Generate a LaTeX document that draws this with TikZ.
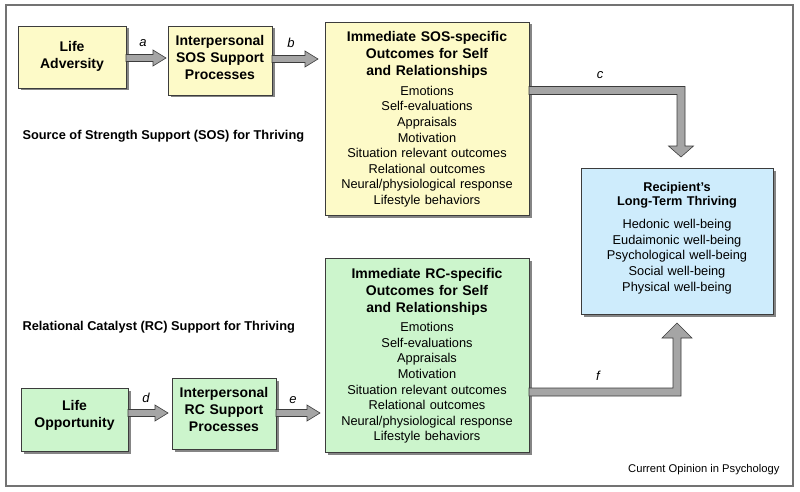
\documentclass[tikz,border=0pt]{standalone}
\usepackage{fontspec}
\setmainfont{Liberation Sans}
\usetikzlibrary{shadows,calc}
\definecolor{yel}{RGB}{253,250,200}
\definecolor{grn}{RGB}{204,245,204}
\definecolor{blu}{RGB}{206,236,252}
\definecolor{arr}{RGB}{165,165,165}
\definecolor{edge}{RGB}{60,60,60}
\tikzset{
  box/.style={draw=edge, line width=0.9pt, inner sep=0pt,
    drop shadow={shadow xshift=2.5pt, shadow yshift=-2.5pt, fill=black!60, opacity=0.8}},
  fat/.style={draw=edge, fill=arr, line width=0.6pt, line join=miter},
  lbl/.style={font=\fontsize{13}{13}\selectfont\itshape, anchor=center},
  bt/.style={font=\fontsize{14}{14}\selectfont\bfseries, anchor=center},
  bd/.style={font=\fontsize{12.8}{12.8}\selectfont, anchor=center},
  sec/.style={font=\fontsize{12.8}{12.8}\selectfont\bfseries, anchor=west},
}
\begin{document}
\begin{tikzpicture}[x=1pt,y=-1pt]
\useasboundingbox (0,0) rectangle (800,492);
\draw[black!55, line width=1.2pt] (6,5) rectangle (793,486);

% boxes
\path[box, fill=yel] (18,26) rectangle (126,88);
\path[box, fill=yel] (168,26) rectangle (272,95);
\path[box, fill=yel] (325,22) rectangle (529,215);
\path[box, fill=blu] (581,168) rectangle (773,314);
\path[box, fill=grn] (325,258) rectangle (529,452);
\path[box, fill=grn] (21,388) rectangle (128,451);
\path[box, fill=grn] (172,378) rectangle (276,449);

% named anchors for boxes
\coordinate (la) at (126,58);
\coordinate (isos) at (168,58);
\coordinate (isosr) at (272,59);
\coordinate (sosl) at (325,59);
\coordinate (sosr) at (529,90.5);
\coordinate (rec) at (681,168);
\coordinate (lo) at (128,413);
\coordinate (irc) at (172,413);
\coordinate (ircr) at (276,413);
\coordinate (rcl) at (325,413);
\coordinate (rcr) at (529,392);
\coordinate (recb) at (677,314);

% text nodes
\node[bt, align=center, text width=100pt, font=\fontsize{14}{17}\selectfont\bfseries] (n1) at (72,56) {Life\\Adversity};
\node[bt, align=center, text width=100pt, font=\fontsize{14}{17}\selectfont\bfseries] (n2) at (220,57) {Interpersonal\\SOS Support\\Processes};
\node[bt, align=center, text width=200pt, font=\fontsize{14}{17}\selectfont\bfseries] (n3) at (427,55) {Immediate SOS-specific\\Outcomes for Self\\and Relationships};
\node[bd, align=center, text width=200pt, font=\fontsize{12.8}{15.6}\selectfont] (n3b) at (427,146.5) {Emotions\\Self-evaluations\\Appraisals\\Motivation\\Situation relevant outcomes\\Relational outcomes\\Neural/physiological response\\Lifestyle behaviors};

\node[bt, align=center, text width=190pt, font=\fontsize{12.7}{14.5}\selectfont\bfseries] (n4) at (677,195) {Recipient’s\\Long-Term Thriving};
\node[bd, align=center, text width=190pt, font=\fontsize{12.8}{15.7}\selectfont] (n4b) at (677,256.5) {Hedonic well-being\\Eudaimonic well-being\\Psychological well-being\\Social well-being\\Physical well-being};

\node[bt, align=center, text width=200pt, font=\fontsize{14}{17}\selectfont\bfseries] (n5) at (427,292) {Immediate RC-specific\\Outcomes for Self\\and Relationships};
\node[bd, align=center, text width=200pt, font=\fontsize{12.8}{15.6}\selectfont] (n5b) at (427,383) {Emotions\\Self-evaluations\\Appraisals\\Motivation\\Situation relevant outcomes\\Relational outcomes\\Neural/physiological response\\Lifestyle behaviors};

\node[bt, align=center, text width=100pt, font=\fontsize{14}{17}\selectfont\bfseries] (n6) at (74.5,415.5) {Life\\Opportunity};
\node[bt, align=center, text width=100pt, font=\fontsize{14}{17}\selectfont\bfseries] (n7) at (224,409) {Interpersonal\\RC Support\\Processes};

\node[sec] (s1) at (19,136) {Source of Strength Support (SOS) for Thriving};
\node[sec] (s2) at (19,327) {Relational Catalyst (RC) Support for Thriving};
\node[font=\fontsize{11.2}{11.2}\selectfont, anchor=east] (cop) at (783,470) {Current Opinion in Psychology};

% small arrows
\path[fat] ($(la)+(0,-3.5)$) -- ($(isos)+(-15,-3.5)$) -- ($(isos)+(-15,-8)$) -- ($(isos)+(-2,0)$) -- ($(isos)+(-15,8)$) -- ($(isos)+(-15,3.5)$) -- ($(la)+(0,3.5)$) -- cycle;
\path[fat] ($(isosr)+(0,-3.5)$) -- ($(sosl)+(-20,-3.5)$) -- ($(sosl)+(-20,-8)$) -- ($(sosl)+(-7,0)$) -- ($(sosl)+(-20,8)$) -- ($(sosl)+(-20,3.5)$) -- ($(isosr)+(0,3.5)$) -- cycle;
\path[fat] ($(lo)+(0,-3.5)$) -- ($(irc)+(-17,-3.5)$) -- ($(irc)+(-17,-8)$) -- ($(irc)+(-4,0)$) -- ($(irc)+(-17,8)$) -- ($(irc)+(-17,3.5)$) -- ($(lo)+(0,3.5)$) -- cycle;
\path[fat] ($(ircr)+(0,-3.5)$) -- ($(rcl)+(-18,-3.5)$) -- ($(rcl)+(-18,-8)$) -- ($(rcl)+(-5,0)$) -- ($(rcl)+(-18,8)$) -- ($(rcl)+(-18,3.5)$) -- ($(ircr)+(0,3.5)$) -- cycle;

% big elbow arrows
\path[fat] ($(sosr)+(0,-4)$) -- ($(rec|-sosr)+(4,-4)$) -- ($(rec)+(4,-22)$) -- ($(rec)+(12.5,-22)$) -- ($(rec)+(0,-11)$) -- ($(rec)+(-12.5,-22)$) -- ($(rec)+(-4,-22)$) -- ($(rec|-sosr)+(-4,4)$) -- ($(sosr)+(0,4)$) -- cycle;
\path[fat] ($(rcr)+(0,4)$) -- ($(recb|-rcr)+(4,4)$) -- ($(recb)+(4,24)$) -- ($(recb)+(15,24)$) -- ($(recb)+(0,9)$) -- ($(recb)+(-15,24)$) -- ($(recb)+(-4,24)$) -- ($(recb|-rcr)+(-4,-4)$) -- ($(rcr)+(0,-4)$) -- cycle;

% labels
\node[lbl] (la1) at (143,43) {a};
\node[lbl] (lb1) at (291,43) {b};
\node[lbl] (lc1) at (600,75) {c};
\node[lbl] (ld1) at (146,398) {d};
\node[lbl] (le1) at (293,400) {e};
\node[lbl] (lf1) at (598,376) {f};
\end{tikzpicture}
\end{document}
